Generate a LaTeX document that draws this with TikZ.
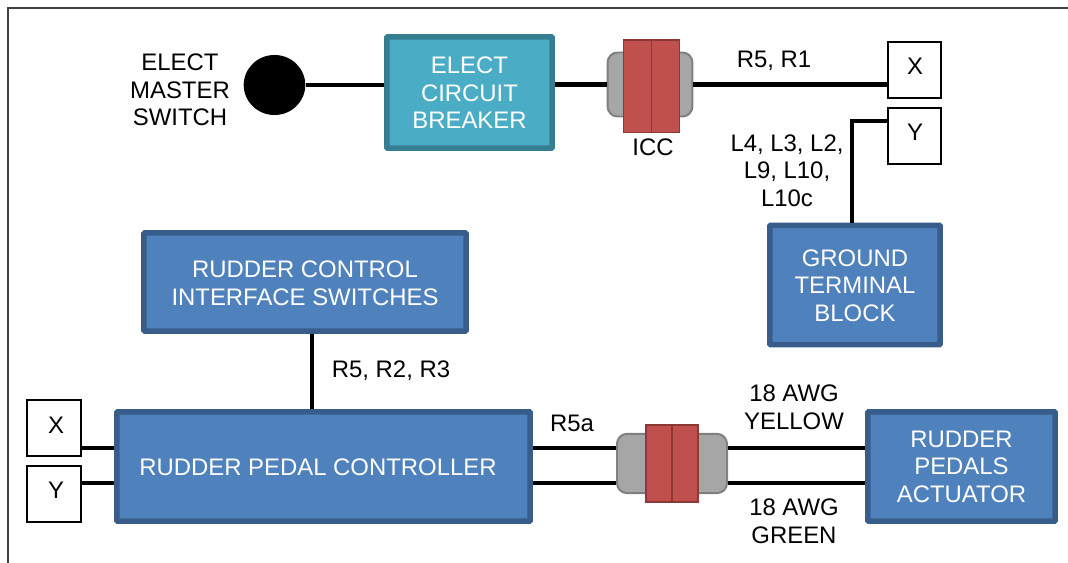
\documentclass[tikz,border=0pt]{standalone}
\usepackage{fontspec}
\setmainfont{Liberation Sans}
\usepackage{xcolor}
\usetikzlibrary{positioning, shapes.geometric}
\definecolor{bluefill}{HTML}{4F81BD}
\definecolor{blueedge}{HTML}{385D8A}
\definecolor{tealfill}{HTML}{4BACC6}
\definecolor{tealedge}{HTML}{357D91}
\definecolor{grayfill}{HTML}{A6A6A6}
\definecolor{grayedge}{HTML}{7F7F7F}
\definecolor{redfill}{HTML}{C0504D}
\definecolor{rededge}{HTML}{8C3836}

\begin{document}
\begin{tikzpicture}[
  x=0.025cm, y=-0.025cm,
  font=\fontsize{17}{19.6}\selectfont,
  block/.style={rectangle, draw=blueedge, fill=bluefill, line width=3.9pt, text=white, align=center, inner sep=0pt, rounded corners=0.5pt},
  tealblock/.style={block, draw=tealedge, fill=tealfill},
  xybox/.style={rectangle, draw=black, fill=white, line width=1.3pt, minimum width=1.33cm, minimum height=1.38cm, inner sep=0pt},
  plug/.style={rectangle, draw=grayedge, fill=grayfill, line width=1.4pt, rounded corners=2.5mm, inner sep=0pt},
  socket/.style={rectangle, draw=rededge, fill=redfill, line width=1.4pt, inner sep=0pt},
  wire/.style={line width=3pt, black},
  tag/.style={align=center, inner sep=0pt}
]
  \useasboundingbox (0,0) rectangle (1068,563);
  % outer frame
  \draw[line width=1pt, black!75] (8,563) -- (8,8) -- (1068,8);

  % top row
  \node[ellipse, fill=black, minimum width=1.54cm, minimum height=1.5cm, inner sep=0pt] (masterswitch) at (274.5,85) {};
  \node[tealblock, minimum width=4.13cm, minimum height=2.78cm] (breaker) at (469.5,92.5) {};
  \node[tag, text=white] (breakertext) at (469.5,93) {ELECT\\CIRCUIT\\BREAKER};
  \node[plug, minimum width=2.12cm, minimum height=1.6cm] (iccplug) at (650,84.5) {};
  \node[socket, minimum width=1.4cm, minimum height=2.3cm] (iccsocket) at (651.5,86.5) {};
  \draw[rededge, line width=1.4pt] (iccsocket.north) -- (iccsocket.south);
  \node[xybox] (xtop) at (914.5,70) {};
  \node[xybox] (ytop) at (914.5,136) {};
  \node[tag] (xtoptext) at (915,66) {X};
  \node[tag] (ytoptext) at (915,132) {Y};
  \node[block, minimum width=4.25cm, minimum height=2.98cm] (ground) at (855,285) {};
  \node[tag, text=white] (groundname) at (855,285.5) {GROUND\\TERMINAL\\BLOCK};

  % bottom row
  \node[block, minimum width=8.05cm, minimum height=2.45cm] (interface) at (305,282) {};
  \node[tag, text=white] (interfacetext) at (305,283) {RUDDER CONTROL\\INTERFACE SWITCHES};
  \node[block, minimum width=10.33cm, minimum height=2.73cm] (controller) at (323.5,466.5) {};
  \node[tag, text=white] (controllertext) at (318,467.5) {RUDDER PEDAL CONTROLLER};
  \node[block, minimum width=4.68cm, minimum height=2.73cm] (actuator) at (961.5,466.5) {RUDDER\\PEDALS\\ACTUATOR};
  \node[xybox] (xlow) at (54,428) {};
  \node[xybox] (ylow) at (54,494) {};
  \node[tag] (xlowtext) at (56,425) {X};
  \node[tag] (ylowtext) at (56,490) {Y};
  \node[plug, minimum width=2.75cm, minimum height=1.48cm] (lowplug) at (672,463.5) {};
  \node[socket, minimum width=1.32cm, minimum height=1.93cm] (lowsocket) at (672,463.5) {};
  \draw[rededge, line width=1.4pt] (lowsocket.north) -- (lowsocket.south);

  \coordinate (upperlevel) at (0,448);
  \coordinate (lowerlevel) at (0,483);
  \coordinate (ybend) at (852,121);

  % wires
  \draw[wire] (masterswitch.east) -- (breaker.west |- masterswitch.east);
  \draw[wire] (breaker.east |- iccplug.west) -- (iccplug.west);
  \draw[wire] (iccplug.east) -- (xtop.west |- iccplug.east);
  \draw[wire] (ytop.west |- ybend) -- (ybend) -- (ybend |- ground.north);
  \draw[wire] (interface.south -| 312,0) -- (controller.north -| 312,0);
  \draw[wire] (xlow.east |- upperlevel) -- (controller.west |- upperlevel);
  \draw[wire] (ylow.east |- lowerlevel) -- (controller.west |- lowerlevel);
  \draw[wire] (controller.east |- upperlevel) -- (lowplug.west |- upperlevel);
  \draw[wire] (controller.east |- lowerlevel) -- (lowplug.west |- lowerlevel);
  \draw[wire] (lowplug.east |- upperlevel) -- (actuator.west |- upperlevel);
  \draw[wire] (lowplug.east |- lowerlevel) -- (actuator.west |- lowerlevel);

  % labels
  \node[tag] (switchtext) at (180,90) {ELECT\\MASTER\\SWITCH};
  \node[tag] (icctext) at (653,147.5) {ICC};
  \node[tag] (toptext) at (774,61) {R5, R1};
  \node[tag] (groundtext) at (787,170.5) {L4, L3, L2,\\L9, L10,\\L10c};
  \node[tag] (rtext) at (391,370.5) {R5, R2, R3};
  \node[tag] (r5atext) at (572,423.5) {R5a};
  \node[tag] (yellowtext) at (794,407) {18 AWG\\YELLOW};
  \node[tag] (greentext) at (794,521) {18 AWG\\GREEN};
\end{tikzpicture}
\end{document}
